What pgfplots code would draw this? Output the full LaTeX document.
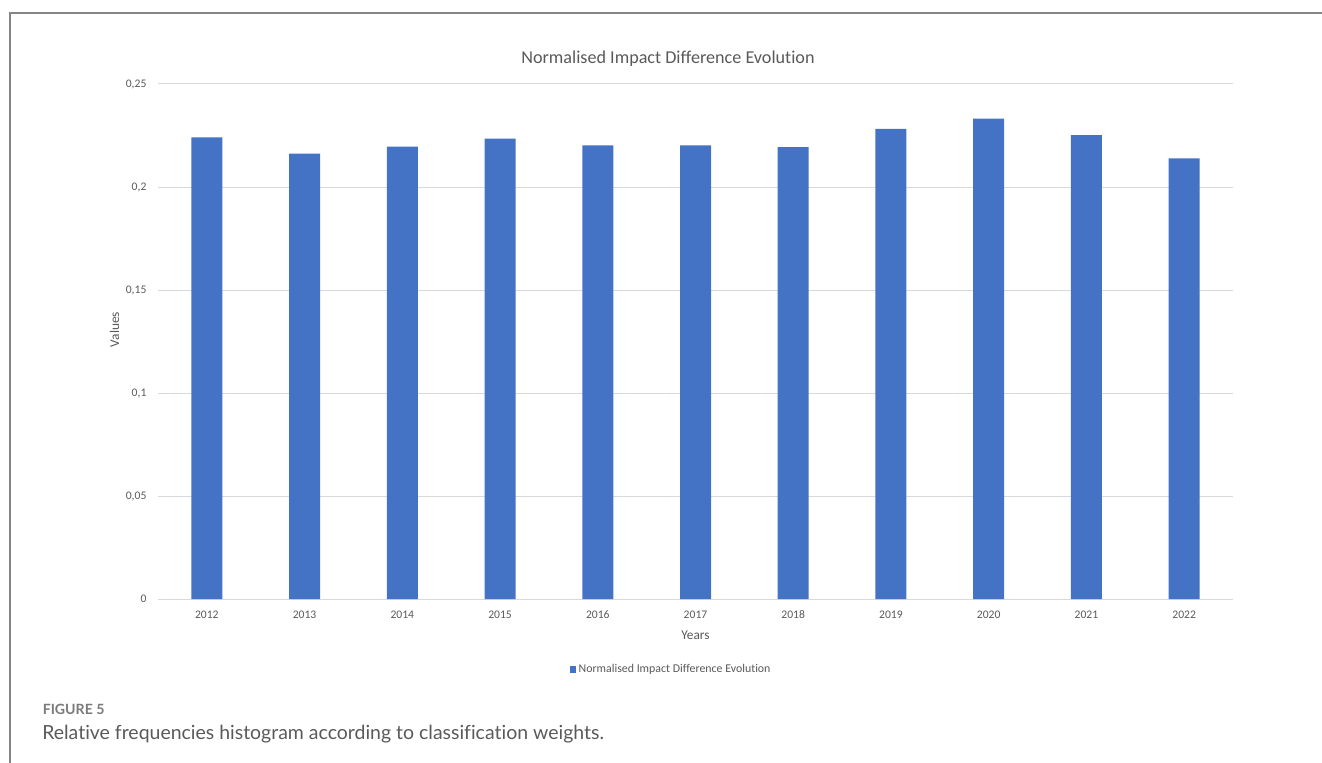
\documentclass[border=0pt]{standalone}
\usepackage{fontspec}
\setmainfont{Carlito}[Ligatures=NoCommon]
\newfontfamily\capfont{Lato}[Ligatures=NoCommon]
\usepackage{pgfplots}
\pgfplotsset{compat=1.18}
\definecolor{barblue}{HTML}{4472C4}
\definecolor{gridgray}{HTML}{D9D9D9}
\definecolor{txtgray}{HTML}{595959}
\definecolor{framegray}{HTML}{858585}
\definecolor{capgray}{HTML}{5A5A5A}
\definecolor{figgray}{HTML}{7A7A7A}
\begin{document}
\begin{tikzpicture}
\useasboundingbox (0,0) rectangle (991.5pt,-572.25pt);
\begin{scope}[x=0.75pt,y=-0.75pt]
\draw[framegray,line width=1.5pt] (10,763) -- (10,13) -- (1322,13);
\node[anchor=base west,inner sep=0pt,text=figgray,font=\capfont\bfseries\fontsize{10.6pt}{12pt}\selectfont] at (42.5,714) {FIGURE 5};
\node[anchor=base west,inner sep=0pt,text=capgray,font=\capfont\fontsize{14.6pt}{17pt}\selectfont] at (42,739) {Relative frequencies histogram according to classification weights.};
\end{scope}
\begin{axis}[
  at={(118.5pt,-449.25pt)}, anchor=south west,
  scale only axis, width=806.25pt, height=386.25pt,
  ybar, bar width=23.25pt,
  xmin=-0.5, xmax=10.5, ymin=0, ymax=0.25,
  xtick=data,
  xticklabels={2012,2013,2014,2015,2016,2017,2018,2019,2020,2021,2022},
  ytick={0,0.05,0.1,0.15,0.2,0.25},
  yticklabels={0,{0,05},{0,1},{0,15},{0,2},{0,25}},
  axis line style={draw=none},
  major tick length=0pt,
  ymajorgrids, grid style={draw=gridgray,line width=0.75pt},
  tick label style={font=\fontsize{8.7pt}{10pt}\selectfont,text=txtgray,inner sep=0pt},
  yticklabel style={anchor=east,xshift=-8.5pt},
  xticklabel style={anchor=base,yshift=-14.4pt},
  title={Normalised Impact Difference Evolution},
  title style={at={(rel axis cs:0.4744,1)},anchor=base,yshift=9.3pt,inner sep=0pt,
    font=\fontsize{13.6pt}{16pt}\selectfont,text=txtgray},
  xlabel={Years},
  xlabel style={at={(rel axis cs:0.5,0)},anchor=base,yshift=-30pt,inner sep=0pt,
    font=\fontsize{10pt}{12pt}\selectfont,text=txtgray},
  ylabel={Values},
  ylabel style={at={(rel axis cs:0,0.5233)},anchor=base,yshift=29.25pt,inner sep=0pt,
    font=\fontsize{10pt}{12pt}\selectfont,text=txtgray},
  legend style={at={(rel axis cs:0.3826,-0.1365)},anchor=west,draw=none,fill=none,
    inner sep=0pt,font=\fontsize{8.9pt}{10pt}\selectfont,text=txtgray,
    /tikz/every even column/.append style={column sep=0pt}},
  legend cell align=left,
  legend image code/.code={\fill[barblue] (0pt,-2.4pt) rectangle (4.8pt,2.4pt);},
]
\addplot[fill=barblue,draw=none] coordinates {
  (0,0.2241) (1,0.2162) (2,0.2196) (3,0.2235) (4,0.2202) (5,0.2202)
  (6,0.2194) (7,0.2282) (8,0.2332) (9,0.2252) (10,0.2139)};
\addlegendentry{Normalised Impact Difference Evolution}
\end{axis}
\end{tikzpicture}
\end{document}
